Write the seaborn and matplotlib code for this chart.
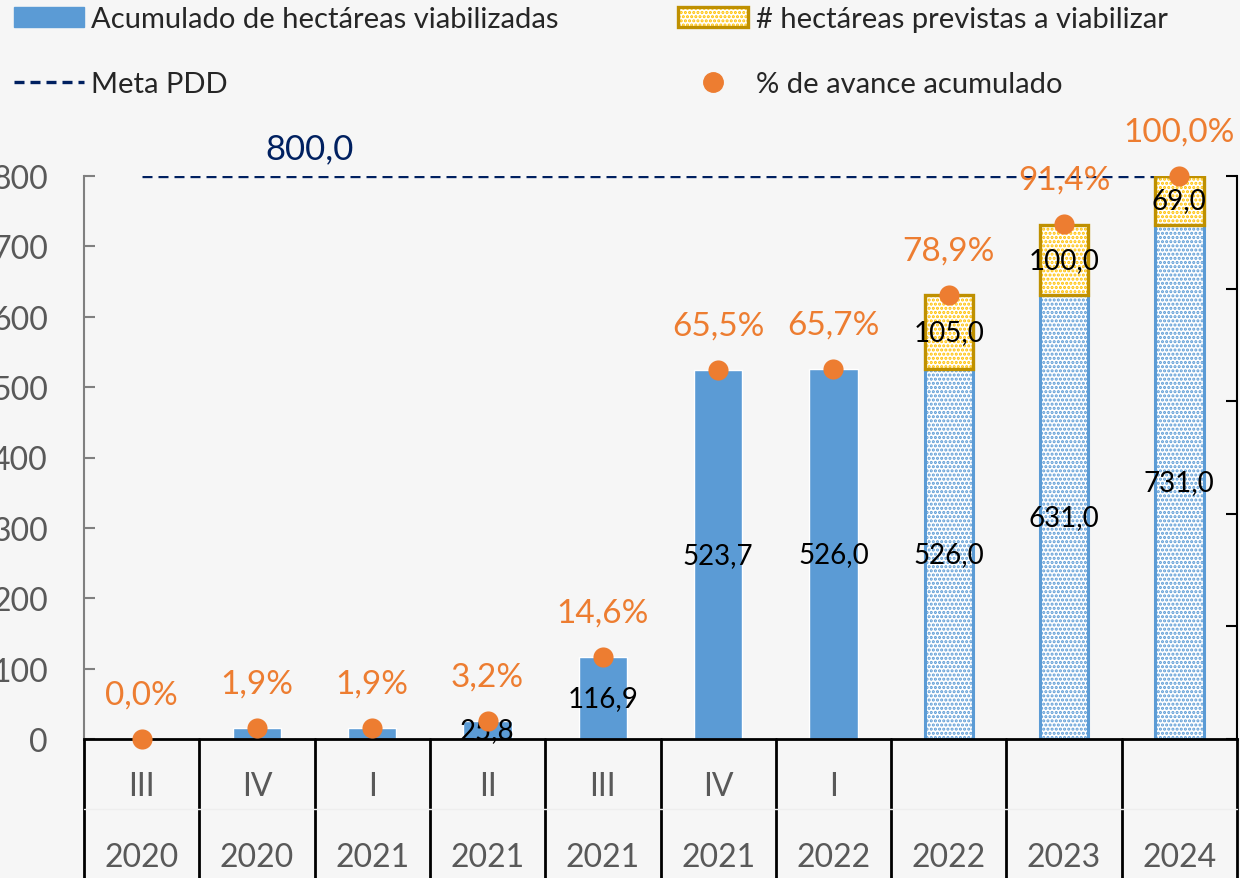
import matplotlib
matplotlib.use('Agg')
import matplotlib.pyplot as plt
from matplotlib.lines import Line2D
from matplotlib.patches import Patch, Rectangle
import numpy as np
import pandas as pd
import seaborn as sns

# Data
quarters = ["III", "IV", "I", "II", "III", "IV", "I", "", "", ""]
years = ["2020", "2020", "2021", "2021", "2021", "2021", "2022", "2022", "2023", "2024"]
acumulado = [0.0, 15.2, 15.2, 25.8, 116.9, 523.7, 526.0, 526.0, 631.0, 731.0]
previstas = [0.0, 0.0, 0.0, 0.0, 0.0, 0.0, 0.0, 105.0, 100.0, 69.0]
avance = [0.0, 1.9, 1.9, 3.2, 14.6, 65.5, 65.7, 78.9, 91.4, 100.0]
proyectado = [False, False, False, False, False, False, False, True, True, True]
META = 800.0

BLUE = "#5B9BD5"
GOLD_EDGE = "#BF9000"
YELLOW = "#FFC000"
ORANGE = "#ED7D31"
NAVY = "#002060"
GRAY = "#595959"
BG = "#f6f6f6"
DASH = (0, (3.0, 1.8))


def fmt(v):
    return f"{v:.1f}".replace(".", ",")


df = pd.DataFrame({
    "periodo": [f"{q} {y}".strip() for q, y in zip(quarters, years)],
    "acumulado": acumulado,
    "previstas": previstas,
    "avance": avance,
})
df["total"] = df["acumulado"] + df["previstas"]

sns.set_theme(style="white")
plt.rcParams['font.family'] = ['Lato', 'DejaVu Sans']
plt.rcParams['hatch.linewidth'] = 1.5

fig = plt.figure(figsize=(12.4, 8.79), dpi=100, facecolor=BG)
ax = fig.add_axes([84 / 1240, 139 / 879, 1153 / 1240, 563 / 879])
ax.set_facecolor("none")

# stacked bars: total first (yellow hatch), accumulated on top of it
sns.barplot(data=df, x="periodo", y="total", color="white", width=0.42,
            saturation=1, errorbar=None, ax=ax)
yellow_bars = list(ax.patches)
sns.barplot(data=df, x="periodo", y="acumulado", color=BLUE, width=0.42,
            saturation=1, errorbar=None, ax=ax)
blue_bars = list(ax.patches)[len(yellow_bars):]

for bar, prev in zip(yellow_bars, df["previstas"]):
    if prev == 0:
        bar.set_visible(False)
        continue
    bar.set_facecolor("white")
    bar.set_hatch("....")
    bar.set_edgecolor(YELLOW)
    bar.set_linewidth(0)

for bar, proj in zip(blue_bars, proyectado):
    if proj:
        bar.set_facecolor("white")
        bar.set_hatch("....")
        bar.set_edgecolor(BLUE)
        bar.set_linewidth(2.2)

for bar, acum, prev in zip(yellow_bars, df["acumulado"], df["previstas"]):
    if prev > 0:
        ax.add_patch(Rectangle((bar.get_x(), acum), bar.get_width(), prev,
                               fill=False, edgecolor=GOLD_EDGE, lw=2.4, zorder=3))

# data labels
for i, row in df.iterrows():
    if row["acumulado"] >= 20:
        ax.text(i, row["acumulado"] / 2, fmt(row["acumulado"]), ha='center',
                va='center', fontsize=20, color='black', zorder=4)
    if row["previstas"] > 0:
        ax.text(i, row["acumulado"] + row["previstas"] / 2, fmt(row["previstas"]),
                ha='center', va='center', fontsize=20, color='black', zorder=4)

# goal line
ax.hlines(META, 0, len(df) - 1, colors=NAVY, linestyles=DASH, lw=2.4, zorder=1)
ax.annotate(fmt(META), (1.46, META), xytext=(0, 20), textcoords='offset points',
            ha='center', va='center', color=NAVY, fontsize=25)

ax.set_ylim(0, 800)
ax.set_yticks(range(0, 801, 100))
ax.set_xlim(-0.5, len(df) - 0.5)
ax.set_xticks([])
ax.set_xlabel("")
ax.set_ylabel("")
ax.tick_params(axis='y', direction='in', length=8, width=1.5, color='#808080',
               labelsize=23, labelcolor=GRAY, pad=26, left=True)
ax.spines['top'].set_visible(False)
ax.spines['right'].set_visible(False)
ax.spines['left'].set_color('#808080')
ax.spines['left'].set_linewidth(1.5)
ax.spines['bottom'].set_color('black')
ax.spines['bottom'].set_linewidth(2)

# category axis: two rows of labels with separators
trans = ax.get_xaxis_transform()
row1 = -47 / 563
row2 = -118 / 563
for i, (q, y) in enumerate(zip(quarters, years)):
    ax.text(i, row1, q, transform=trans, ha='center', va='center', fontsize=23,
            color=GRAY)
    ax.text(i, row2, y, transform=trans, ha='center', va='center', fontsize=23,
            color=GRAY)
for xb in np.arange(len(df) + 1) - 0.5:
    ax.plot([xb, xb], [0, -0.3], transform=trans, color='black', lw=2, clip_on=False)
ax.plot([-0.5, len(df) - 0.5], [-70 / 563, -70 / 563], transform=trans,
        color='#eeeeee', lw=1, clip_on=False)

# progress percentage on secondary axis
ax2 = ax.twinx()
sns.scatterplot(x=np.arange(len(df)), y=df["avance"], color=ORANGE, s=210,
                linewidth=0, ax=ax2, clip_on=False, zorder=5)
for i, v in enumerate(df["avance"]):
    ax2.annotate(fmt(v) + "%", (i, v), xytext=(0, 32), textcoords='offset points',
                 ha='center', va='center', fontsize=24, color=ORANGE,
                 annotation_clip=False)
ax2.set_ylim(0, 100)
ax2.set_yticks(range(0, 101, 20))
ax2.set_ylabel("")
ax2.tick_params(axis='y', direction='in', length=8, width=1.5, color='black',
                labelright=False, right=True)
for s in ['top', 'left', 'bottom']:
    ax2.spines[s].set_visible(False)
ax2.spines['right'].set_color('black')
ax2.spines['right'].set_linewidth(1.5)
ax2.set_xlim(-0.5, len(df) - 0.5)

# legend
handles = [
    Patch(facecolor=BLUE, edgecolor=BLUE),
    Line2D([], [], color=NAVY, ls=DASH, lw=2.4),
    (Patch(facecolor='white', edgecolor=YELLOW, hatch='....', lw=0),
     Patch(fill=False, edgecolor=GOLD_EDGE, lw=2.4)),
    Line2D([], [], ls='none', marker='o', ms=14, color=ORANGE),
]
labels = ["Acumulado de hectáreas viabilizadas", "Meta PDD",
          "# hectáreas previstas a viabilizar", "% de avance acumulado"]
fig.legend(handles, labels, loc='upper left', bbox_to_anchor=(14 / 1240, 1 - 7 / 879),
           ncol=2, frameon=False, fontsize=21, handlelength=2.4, handleheight=0.7,
           handletextpad=0.25, columnspacing=4.1, labelspacing=1.35,
           borderpad=0, borderaxespad=0)

fig.savefig("out.png", dpi=100, facecolor=BG)
